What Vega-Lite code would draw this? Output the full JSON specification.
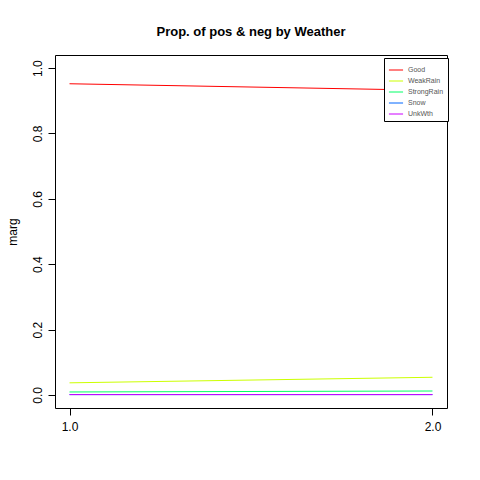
{
  "$schema": "https://vega.github.io/schema/vega-lite/v6.json",
  "width": 392,
  "height": 353,
  "padding": {"left": 55, "top": 55, "right": 33, "bottom": 72},
  "autosize": {"type": "none"},
  "title": {"text": "Prop. of pos & neg by Weather", "font": "Liberation Sans", "fontSize": 13, "fontWeight": "bold", "offset": 16},
  "data": {
    "values": [
      {"x": 1, "w": "Good", "v": 0.952},
      {"x": 2, "w": "Good", "v": 0.932},
      {"x": 1, "w": "WeakRain", "v": 0.037},
      {"x": 2, "w": "WeakRain", "v": 0.054},
      {"x": 1, "w": "StrongRain", "v": 0.009},
      {"x": 2, "w": "StrongRain", "v": 0.012},
      {"x": 1, "w": "Snow", "v": 0.001},
      {"x": 2, "w": "Snow", "v": 0.001},
      {"x": 1, "w": "UnkWth", "v": 0.001},
      {"x": 2, "w": "UnkWth", "v": 0.001}
    ]
  },
  "mark": {"type": "line", "strokeWidth": 1},
  "encoding": {
    "x": {"field": "x", "type": "quantitative", "scale": {"domain": [0.96, 2.04], "nice": false, "zero": false},
      "axis": {"values": [1, 2], "title": null, "grid": false, "tickSize": 7, "labelFontSize": 12, "labelPadding": 6, "domain": false}},
    "y": {"field": "v", "type": "quantitative", "scale": {"domain": [-0.04, 1.04], "nice": false},
      "axis": {"values": [0, 0.2, 0.4, 0.6, 0.8, 1.0], "format": ".1f", "title": "marg", "titleFontWeight": "normal", "titleFontSize": 12, "titlePadding": 12, "grid": false, "tickSize": 7, "labelAngle": -90, "labelAlign": "center", "labelBaseline": "bottom", "labelFontSize": 12, "labelPadding": 4, "domain": false}},
    "color": {"field": "w", "type": "nominal", "sort": ["Good", "WeakRain", "StrongRain", "Snow", "UnkWth"],
      "scale": {"domain": ["Good", "WeakRain", "StrongRain", "Snow", "UnkWth"], "range": ["#FF0000", "#CCFF00", "#00FF66", "#0066FF", "#CC00FF"]},
      "legend": {"title": null, "orient": "none", "legendX": 329, "legendY": 3, "symbolType": "stroke", "symbolStrokeDash": [4, 3], "symbolStrokeWidth": 1, "symbolSize": 200, "labelFontSize": 7, "labelColor": "#555", "rowPadding": 0, "strokeColor": "black", "padding": 4, "fillColor": "white"}}
  },
  "config": {
    "font": "Liberation Sans",
    "view": {"stroke": "black", "strokeWidth": 1},
    "axis": {"labelColor": "black", "tickColor": "black", "titleColor": "black"}
  }
}
